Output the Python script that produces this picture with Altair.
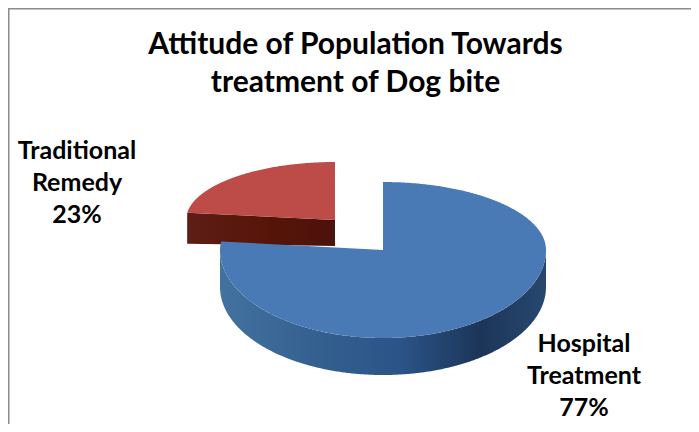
import math
import altair as alt

categories = ["Hospital Treatment", "Traditional Remedy"]
shares = [77, 23]
title_lines = ["Attitude of Population Towards", "treatment of Dog bite"]
label_lines = ["Hospital\nTreatment\n77%", "Traditional\nRemedy\n23%"]

FONT = "Lato"
OFF = 8  # page margin: picture coordinates -> chart coordinates


def ellipse_point(cx, cy, rx, ry_back, ry_front, deg):
    a = math.radians(deg)
    c = math.cos(a)
    return [cx + rx * math.sin(a) - OFF, cy - (ry_back if c > 0 else ry_front) * c - OFF]


def arc(spec, start, end):
    n = max(2, int(abs(end - start)) * 2)
    return [ellipse_point(*spec, start + (end - start) * i / n) for i in range(n + 1)]


def feature(ring):
    return {"type": "Feature", "properties": {},
            "geometry": {"type": "Polygon", "coordinates": [ring + [ring[0]]]}}


def shape(ring, **mark):
    data = alt.InlineData(values={"type": "FeatureCollection", "features": [feature(ring)]},
                          format=alt.DataFormat(property="features", type="json"))
    return alt.Chart(data).mark_geoshape(strokeWidth=0, **mark)


# slices run clockwise from twelve o'clock
hospital_end = 360 * shares[0] / sum(shares)
blue = (383, 250, 163, 68, 88)
red = (335, 220, 149, 58, 58)
blue_depth, red_depth = 37, 26

blue_rim = arc(blue, 90, 270)
blue_wall = blue_rim + [[x, y + blue_depth] for x, y in reversed(blue_rim)]
blue_top = [[blue[0] - OFF, blue[1] - OFF]] + arc(blue, 0, hospital_end)

red_apex = [red[0] - OFF, red[1] - OFF]
red_left = ellipse_point(*red, hospital_end)
red_wall = [red_apex, red_left, [red_left[0], red_left[1] + red_depth + 5],
            [red_apex[0], red_apex[1] + red_depth]]
red_top = [red_apex] + arc(red, hospital_end, 360)

wall_gradient = alt.Gradient(
    gradient="linear", x1=0, x2=1, y1=0, y2=0,
    stops=[alt.GradientStop(offset=0, color="#44729f"),
           alt.GradientStop(offset=0.3, color="#33608f"),
           alt.GradientStop(offset=0.55, color="#2b5488"),
           alt.GradientStop(offset=0.8, color="#1c3558"),
           alt.GradientStop(offset=1, color="#27486f")])
red_wall_gradient = alt.Gradient(
    gradient="linear", x1=0, x2=1, y1=0, y2=0,
    stops=[alt.GradientStop(offset=0, color="#5e1d15"),
           alt.GradientStop(offset=0.6, color="#561409"),
           alt.GradientStop(offset=1, color="#4c120c")])

labels = alt.Data(values=[
    {"label": label_lines[0], "px": 584 - OFF, "py": 344 - OFF},
    {"label": label_lines[1], "px": 77 - OFF, "py": 151 - OFF},
])
text = alt.Chart(labels).mark_text(
    font=FONT, fontWeight="bold", fontSize=25, color="#000000",
    align="center", baseline="middle", lineBreak="\n", lineHeight=32,
).encode(
    x=alt.X("px:Q", scale=None), y=alt.Y("py:Q", scale=None), text="label:N"
)

# the frame has only a top and a left edge
top_edge = alt.Chart(alt.Data(values=[{"e": 1}])).mark_rule(color="#8c8c8c", strokeWidth=3).encode(
    x=alt.value(0), x2=alt.value(683), y=alt.value(0))
left_edge = alt.Chart(alt.Data(values=[{"e": 1}])).mark_rule(color="#8c8c8c", strokeWidth=3).encode(
    y=alt.value(0), y2=alt.value(416), x=alt.value(0))

chart = alt.layer(
    top_edge,
    left_edge,
    shape(red_wall, fill=red_wall_gradient),
    shape(red_top, fill="#bd4b48"),
    shape(blue_wall, fill=wall_gradient),
    shape(blue_top, fill="#4a7ab6"),
    text,
).project(type="identity", scale=1, translate=[0, 0]).properties(
    width=683, height=416, padding=0,
    autosize=alt.AutoSizeParams(type="none"),
    title=alt.TitleParams(text=title_lines, font=FONT, fontWeight="bold", fontSize=30,
                          lineHeight=38, color="#000000", anchor="middle",
                          baseline="top", dy=91, dx=6, offset=0),
).configure_view(stroke=None, fill="white")

chart.save("out.html", embed_options={"renderer": "svg", "actions": False})
